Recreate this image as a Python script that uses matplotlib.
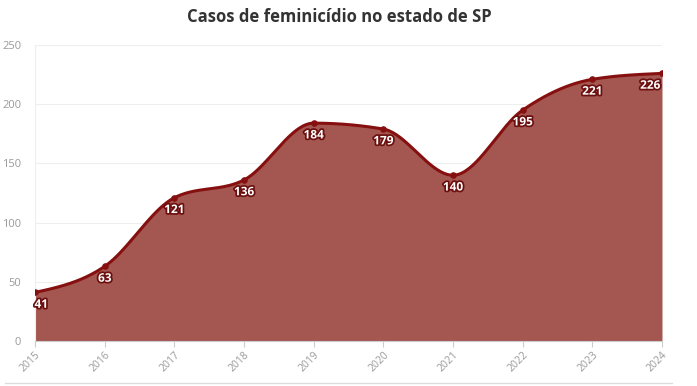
import numpy as np
import matplotlib
matplotlib.use("Agg")
import matplotlib.pyplot as plt
import matplotlib.patheffects as pe

anos = [2015, 2016, 2017, 2018, 2019, 2020, 2021, 2022, 2023, 2024]
casos = [41, 63, 121, 136, 184, 179, 140, 195, 221, 226]
yticks = [0, 50, 100, 150, 200, 250]

linha = "#861010"
area = "#a45751"
cinza = "#999999"


def monotone(x, y, n=40):
    # interpolacao monotona (tipo d3 curveMonotoneX)
    x = np.asarray(x, float)
    y = np.asarray(y, float)
    h = np.diff(x)
    s = np.diff(y) / h
    m = np.zeros_like(y)
    for i in range(1, len(y) - 1):
        if s[i - 1] * s[i] <= 0:
            m[i] = 0
        else:
            p = (s[i - 1] * h[i] + s[i] * h[i - 1]) / (h[i - 1] + h[i])
            m[i] = np.sign(s[i - 1]) * min(abs(s[i - 1]), abs(s[i]), 0.5 * abs(p)) * 2
    m[0] = (3 * s[0] - m[1]) / 2
    m[-1] = (3 * s[-1] - m[-2]) / 2
    xs, ys = [], []
    for i in range(len(x) - 1):
        t = np.linspace(0, 1, n)
        h00 = 2 * t**3 - 3 * t**2 + 1
        h10 = t**3 - 2 * t**2 + t
        h01 = -2 * t**3 + 3 * t**2
        h11 = t**3 - t**2
        xs.append(x[i] + t * h[i])
        ys.append(h00 * y[i] + h10 * h[i] * m[i] + h01 * y[i + 1] + h11 * h[i] * m[i + 1])
    return np.concatenate(xs), np.concatenate(ys)


plt.rcParams["font.family"] = ["Open Sans", "DejaVu Sans"]

fig = plt.figure(figsize=(6.97, 3.86), dpi=100)
ax = fig.add_axes([35 / 697, 45 / 386, 627 / 697, 296 / 386])

xs, ys = monotone(anos, casos)
ax.fill_between(xs, ys, 0, color=area, lw=0, zorder=2)
ax.plot(xs, ys, color=linha, lw=2.2, zorder=3, solid_capstyle="round")
ax.scatter(anos, casos, s=14, color=linha, zorder=4)

for i, (a, c) in enumerate(zip(anos, casos)):
    dx = 0
    if i == 0:
        dx = 4.5
    if i == len(anos) - 1:
        dx = -8.5
    ax.annotate(str(c), (a, c), xytext=(dx, -8.5), textcoords="offset points",
                ha="center", va="center", fontsize=8.5, fontweight="bold", color="white",
                zorder=5, path_effects=[pe.withStroke(linewidth=2.5, foreground="#6b0f0f")])

ax.set_xlim(anos[0], anos[-1])
ax.set_ylim(0, 250)
ax.set_yticks(yticks)
ax.set_xticks(anos)
ax.set_xticklabels([str(a) for a in anos], rotation=45, ha="right", rotation_mode="anchor")
ax.tick_params(axis="y", length=0, labelsize=8, labelcolor=cinza, pad=10)
ax.tick_params(axis="x", length=4, color="#cccccc", labelsize=7.5, labelcolor=cinza, pad=2)
ax.grid(axis="y", color="#eeeeee", lw=0.8, zorder=0)
for lado in ["top", "right"]:
    ax.spines[lado].set_visible(False)
ax.spines["left"].set_color("#eeeeee")
ax.spines["bottom"].set_color("#cccccc")

fig.text(339 / 697, 1 - 17 / 386, "Casos de feminicídio no estado de SP", ha="center", va="center",
         fontsize=12, fontweight="bold", color="#333333")
fig.add_artist(plt.Line2D([5 / 697, 672 / 697], [3 / 386, 3 / 386], color="#dddddd", lw=1))

fig.savefig("out.png", dpi=100)
